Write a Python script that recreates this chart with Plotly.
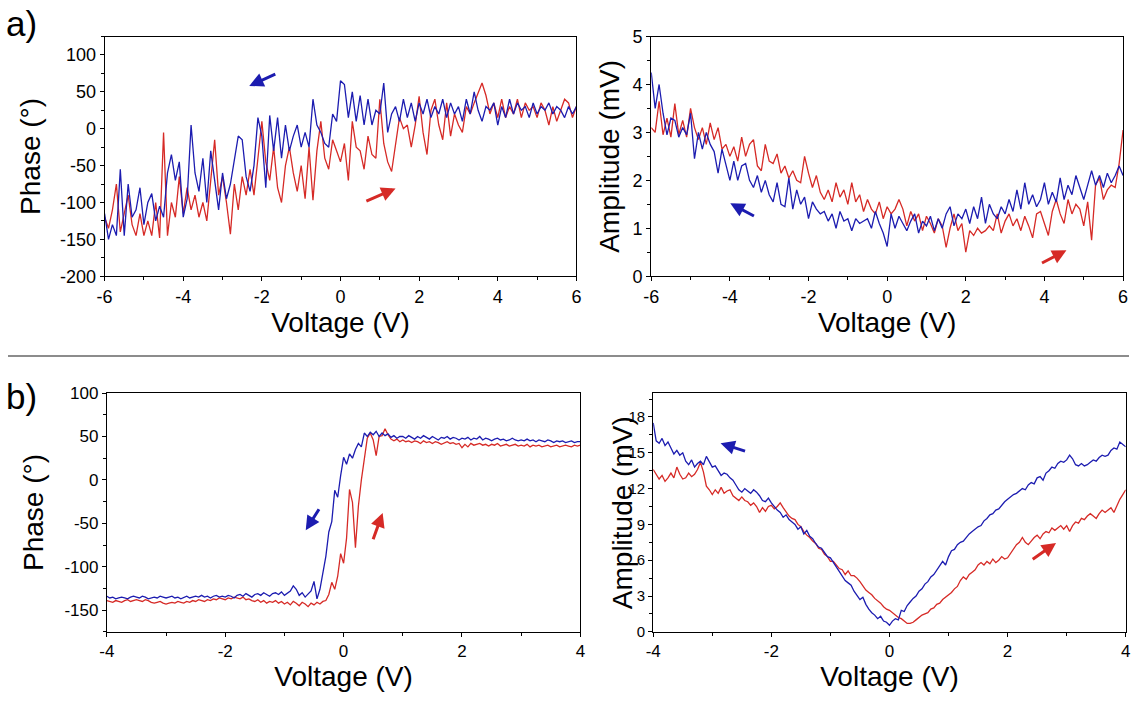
import numpy as np
import plotly.graph_objects as go

# ---------------- data ----------------
# panel a: voltage sweep -6..6 V, step 0.1 V
volt_a = np.linspace(-6, 6, 121)

phase_a_blue = [
    -115, -150, -130, -145, -55, -145, -75, -120, -110, -80,
    -130, -100, -88, -125, -105, -120, -60, -35, -70, -45,
    -120, -95, 5, -60, -85, -40, -100, -30, -70, -110,
    -60, -95, -75, -40, -10, -15, -65, -85, -50, 15,
    -10, -80, 18, -30, 15, -40, 5, -30, -10, 5,
    -25, -5, -25, 40, 5, -5, -20, -25, 20, 10,
    65, 60, 15, 50, 10, 45, 5, 40, 5, 25,
    20, 62, -5, 20, 30, 10, 40, 15, 35, 10,
    35, 20, 40, 15, 30, 20, 40, 15, 35, 20,
    30, 10, 40, 20, 50, 25, 10, 30, 25, 35,
    5, 30, 15, 40, 20, 35, 25, 30, 15, 35,
    20, 30, 25, 35, 20, 30, 25, 15, 30, 20,
    30,
]
phase_a_red = [
    -120, -135, -110, -75, -140, -115, -90, -130, -145, -115,
    -145, -125, -145, -100, -148, -5, -145, -100, -120, -65,
    -115, -80, -110, -90, -120, -100, -125, -70, -15, -90,
    -65, -100, -143, -75, -110, -65, -90, -55, -90, -40,
    10, -45, -70, -25, -80, -100, -50, -25, -60, -85,
    -50, -95, -25, -97, -30, 10, -40, -55, -15, -30,
    -45, -20, -70, 10, -25, -30, -55, -10, -35, -40,
    40, -20, -45, -58, -20, 15, 0, 5, -25, 5,
    44, -5, -35, 25, 40, 5, -15, 35, -10, 20,
    5, -5, 30, 20, 35, 50, 62, 45, 20, 35,
    15, 40, 15, 30, 20, 40, 15, 35, 25, 30,
    15, 35, 25, 5, 30, 10, 25, 40, 35, 15,
    30,
]
amp_a_blue = [
    4.25, 3.5, 4.0, 3.4, 2.95, 3.3, 3.25, 2.9, 3.1, 2.95,
    3.4, 2.45, 3.0, 2.65, 3.0, 2.75, 2.6, 2.15, 2.65, 2.3,
    2.0, 2.4, 2.0, 2.3, 2.35, 2.0, 1.85, 2.1, 1.75, 2.0,
    1.7, 1.55, 1.95, 1.5, 1.45, 2.05, 1.4, 1.8, 1.5, 1.65,
    1.2, 1.55, 1.4, 1.3, 1.35, 1.15, 1.3, 1.0, 1.35, 1.15,
    1.2, 0.95, 1.2, 1.1, 1.15, 1.2, 1.0, 1.35, 1.1, 0.9,
    0.62, 1.3, 1.0, 1.25, 1.1, 0.95, 1.15, 1.3, 0.9, 1.15,
    1.05, 1.25, 0.95, 1.2, 1.0, 1.3, 1.45, 1.05, 1.3, 1.2,
    1.4, 1.1, 1.45, 1.2, 1.65, 1.1, 1.5, 1.3, 1.2, 1.45,
    1.3, 1.6, 1.35, 1.8, 1.4, 1.95, 1.5, 1.7, 1.45, 1.6,
    1.95, 1.5, 1.75, 1.55, 2.05, 1.6, 1.9, 1.7, 2.1, 1.85,
    1.6, 1.9, 2.2, 1.9, 2.1, 1.85, 2.15, 1.95, 2.1, 2.3,
    2.1,
]
amp_a_red = [
    3.1, 3.0, 3.65, 2.95, 3.3, 2.9, 3.6, 2.95, 3.25, 2.9,
    3.5, 3.1, 2.85, 3.1, 2.75, 3.2, 2.85, 3.1, 2.65, 2.75,
    2.5, 2.7, 2.4, 2.9, 2.5, 2.75, 2.85, 2.3, 2.2, 2.75,
    2.4, 2.35, 2.55, 2.15, 2.3, 2.05, 2.2, 2.0, 1.95, 2.5,
    2.15, 1.85, 2.1, 1.75, 1.6, 1.8, 1.55, 1.95, 1.65, 1.8,
    1.5, 1.95, 1.55, 1.7, 1.35, 1.6, 1.4, 1.3, 1.55, 1.2,
    1.45, 1.3, 1.4, 1.6, 1.4, 1.05, 1.35, 1.15, 1.3, 0.95,
    1.25, 1.1, 0.9, 1.2, 1.05, 0.6, 1.0, 1.3, 0.95, 1.1,
    0.5, 0.95, 0.85, 1.0, 0.9, 0.95, 1.05, 0.95, 1.3, 0.9,
    1.15, 1.3, 1.05, 1.2, 0.95, 1.25, 1.05, 0.8, 1.3, 1.35,
    1.1, 0.85, 1.35, 1.6, 1.3, 1.1, 1.6, 1.3, 1.5, 1.4,
    1.05, 1.55, 0.75, 1.9, 2.05, 1.6, 1.8, 1.9, 1.85, 2.35,
    3.05,
]

# panel b: voltage sweep -4..4 V, step 0.05 V
volt_b = np.linspace(-4, 4, 161)

phase_b_blue = [
    -134, -136, -135, -137, -136, -135, -136, -137, -135, -134,
    -135, -136, -134, -135, -137, -136, -135, -136, -134, -135,
    -136, -135, -134, -136, -135, -137, -135, -134, -136, -135,
    -134, -135, -133, -135, -134, -136, -134, -133, -135, -134,
    -135, -133, -134, -136, -133, -132, -134, -131, -133, -135,
    -132, -131, -133, -130, -132, -134, -131, -130, -132, -129,
    -133, -131, -128, -122, -126, -133, -130, -135, -131, -128,
    -117, -137, -126, -107, -88, -60, -48, -12, -20, 5,
    26, 18, 30, 25, 35, 42, 38, 54, 50, 55,
    52, 56, 50, 54, 51, 53, 49, 51, 48, 50,
    50, 48, 51, 49, 47, 50, 48, 51, 49, 47,
    50, 48, 46, 49, 48, 50, 47, 49, 48, 46,
    48, 47, 49, 46, 48, 47, 50, 46, 48, 47,
    45, 47, 48, 46, 47, 45, 46, 48, 46, 45,
    46, 45, 47, 45, 46, 44, 46, 45, 44, 46,
    45, 43, 45, 44, 45, 43, 44, 45, 43, 44,
    44,
]
phase_b_red = [
    -139, -140, -141, -139, -140, -141, -139, -138, -140, -139,
    -138, -139, -140, -138, -139, -141, -142, -141, -140, -142,
    -143, -142, -141, -142, -140, -141, -142, -140, -141, -139,
    -140, -138, -139, -140, -138, -139, -137, -138, -136, -137,
    -138, -136, -137, -135, -136, -137, -135, -138, -137, -139,
    -140, -138, -141, -139, -142, -140, -141, -139, -142, -140,
    -143, -141, -144, -140, -142, -145, -141, -143, -146, -142,
    -144, -141, -143, -140, -139, -132, -118, -126, -111, -85,
    -96, -67, -11, -26, -78, -30, 0, 22, 48, 54,
    46, 28, 50, 51, 59, 52, 47, 45, 47, 44,
    46, 44, 45, 43, 45, 44, 42, 45, 43, 44,
    42, 44, 43, 41, 43, 44, 42, 43, 41, 42,
    37, 41, 38, 42, 40, 41, 42, 40, 41, 39,
    41, 40, 42, 39, 40, 41, 39, 40, 41, 39,
    40, 39, 41, 38, 40, 39, 40, 38, 39, 40,
    38, 39, 40, 38, 39, 40, 39, 38, 40, 39,
    40,
]
amp_b_blue = [
    17.5, 16.0, 15.8, 16.2, 15.6, 15.9, 15.4, 14.9, 15.2, 14.8,
    15.0, 14.3, 14.0, 14.4, 13.8, 14.1, 14.3, 14.0, 14.7, 14.2,
    13.8, 13.9, 13.5, 13.1, 13.3, 13.2, 12.9, 12.7, 12.3, 11.9,
    11.7, 12.0, 11.8, 11.6, 11.9, 11.7, 11.4, 11.0, 10.9, 11.2,
    10.8, 10.5, 10.2, 10.0, 9.6, 9.8, 9.4, 9.2, 9.0, 8.6,
    8.8, 8.2, 8.5, 8.0, 7.8, 7.4, 7.1, 7.0, 6.6, 6.3,
    6.2, 5.8, 5.4, 5.0, 4.6, 4.3, 4.1, 3.9, 3.4, 3.0,
    2.7, 2.9, 2.3, 1.9, 1.6, 1.4, 1.1, 1.3, 0.9, 0.8,
    0.55, 0.9, 1.1, 1.0, 1.8, 1.7, 2.2, 2.5, 2.8, 3.0,
    3.4, 3.6, 4.0, 4.2, 4.6, 4.8, 5.2, 5.5, 5.9, 5.6,
    6.3, 6.8, 6.9, 7.3, 7.5, 7.6, 7.9, 8.2, 8.4, 8.6,
    8.8, 8.9, 9.3, 9.5, 9.8, 9.9, 10.2, 10.3, 10.6, 10.9,
    11.1, 11.3, 11.5, 11.6, 11.8, 12.0, 11.9, 12.3, 12.5, 12.4,
    12.9, 13.0, 12.7, 13.3, 13.5, 13.8, 13.7, 14.1, 14.3, 14.2,
    14.4, 14.8, 14.5, 14.0, 13.9, 14.1, 13.9, 14.0, 14.2, 14.4,
    14.3, 14.6, 14.8, 14.7, 14.8, 15.2, 15.4, 15.3, 15.9, 15.7,
    15.5,
]
amp_b_red = [
    13.6, 13.2, 12.8, 13.1, 12.6, 12.9, 13.3, 12.9, 13.8, 13.2,
    12.8, 12.9, 13.3, 13.0, 13.2, 13.6, 14.2, 13.4, 12.2, 11.9,
    11.5, 11.9, 11.6, 12.1, 11.6, 11.8, 11.9, 11.4, 11.2, 11.0,
    11.3, 11.0, 10.9, 10.6, 10.8, 10.5, 10.0, 10.4, 10.1, 10.5,
    10.6, 10.3, 10.5, 10.8, 10.4, 10.0, 9.7, 9.5, 9.4, 9.0,
    8.8, 8.4, 8.1, 7.9, 7.6, 7.4, 7.0, 6.9, 6.5, 6.3,
    5.9, 5.9, 5.6, 5.3, 5.2, 4.8, 5.1, 4.7, 4.7, 4.5,
    4.2, 3.8, 3.5, 3.3, 3.1, 2.8, 2.6, 2.4, 2.1, 1.9,
    1.8, 1.6, 1.4, 1.2, 1.1, 0.9, 0.7, 0.7, 0.8, 1.0,
    1.2, 1.4, 1.5, 1.6, 1.9, 2.0, 2.3, 2.4, 2.7, 2.9,
    3.1, 3.3, 3.6, 3.8, 4.3, 4.6, 4.4, 4.8, 5.0, 5.2,
    5.6, 5.8, 5.6, 5.9, 5.7, 6.1, 5.8, 6.0, 6.3, 6.1,
    6.2, 6.6, 6.9, 7.3, 7.5, 7.9, 7.5, 7.3, 7.6, 7.9,
    8.1, 7.8, 8.2, 8.4, 8.3, 8.7, 8.5, 8.7, 8.9, 8.6,
    8.9, 8.4, 8.9, 9.2, 9.1, 9.5, 9.4, 9.7, 9.9, 9.7,
    9.5, 9.9, 10.2, 10.0, 10.2, 10.4, 10.0, 10.6, 11.1, 11.5,
    11.9,
]

# tick labels (hyphen minus, as in the original)
xticks_a = [-6, -4, -2, 0, 2, 4, 6]
xticklabels_a = ["-6", "-4", "-2", "0", "2", "4", "6"]
yticks_a_phase = [-200, -150, -100, -50, 0, 50, 100]
yticklabels_a_phase = ["-200", "-150", "-100", "-50", "0", "50", "100"]
yticks_a_amp = [0, 1, 2, 3, 4, 5]
yticklabels_a_amp = ["0", "1", "2", "3", "4", "5"]
xticks_b = [-4, -2, 0, 2, 4]
xticklabels_b = ["-4", "-2", "0", "2", "4"]
yticks_b_phase = [-150, -100, -50, 0, 50, 100]
yticklabels_b_phase = ["-150", "-100", "-50", "0", "50", "100"]
yticks_b_amp = [0, 3, 6, 9, 12, 15, 18]
yticklabels_b_amp = ["0", "3", "6", "9", "12", "15", "18"]

# sweep-direction arrows: (head_x, head_y, tail_x, tail_y)
arrows_blue = {
    "a_phase": (-2.32, 58, -1.62, 75),
    "a_amp": (-3.99, 1.52, -3.35, 1.24),
    "b_phase": (-0.64, -58, -0.40, -32),
    "b_amp": (-2.86, 15.8, -2.42, 15.1),
}
arrows_red = {
    "a_phase": (1.40, -81, 0.62, -99),
    "a_amp": (4.56, 0.54, 3.90, 0.26),
    "b_phase": (0.66, -38, 0.49, -70),
    "b_amp": (2.82, 7.45, 2.40, 6.0),
}

# ---------------- styling ----------------
BLUE = "#1c1cb0"
RED = "#d62a26"
FONT = "Liberation Sans, Arial, sans-serif"
W, H = 1134, 704

def px_dom(a, b, total):
    return [a / total, b / total]

def ydom(top, bottom):
    return [1 - bottom / H, 1 - top / H]

fig = go.Figure()

panels = [
    ("x", "y", volt_a, phase_a_blue, phase_a_red, "a_phase"),
    ("x2", "y2", volt_a, amp_a_blue, amp_a_red, "a_amp"),
    ("x3", "y3", volt_b, phase_b_blue, phase_b_red, "b_phase"),
    ("x4", "y4", volt_b, amp_b_blue, amp_b_red, "b_amp"),
]

for xa, ya, v, b, r, key in panels:
    fig.add_trace(go.Scatter(x=v, y=r, mode="lines", xaxis=xa, yaxis=ya,
                             line=dict(color=RED, width=1.3), showlegend=False))
    fig.add_trace(go.Scatter(x=v, y=b, mode="lines", xaxis=xa, yaxis=ya,
                             line=dict(color=BLUE, width=1.3), showlegend=False))
    for arr, col in ((arrows_blue, BLUE), (arrows_red, RED)):
        hx, hy, tx, ty = arr[key]
        fig.add_annotation(x=hx, y=hy, ax=tx, ay=ty, xref=xa, yref=ya,
                           axref=xa, ayref=ya, text="", showarrow=True,
                           arrowhead=2, arrowsize=0.95, arrowwidth=3,
                           arrowcolor=col, standoff=0, startstandoff=0)

def axis_common(tfs=18, **kw):
    d = dict(showline=True, linecolor="black", linewidth=1, mirror=True,
             ticks="outside", ticklen=4, tickcolor="black", tickwidth=1,
             showgrid=False, zeroline=False,
             tickfont=dict(family=FONT, size=tfs, color="black"),
             title_font=dict(family=FONT, size=28, color="black"))
    d.update(kw)
    return d

def minor(step):
    return dict(ticks="outside", ticklen=3, dtick=step, tick0=0, tickcolor="black")

fig.update_layout(
    width=W, height=H,
    margin=dict(l=0, r=0, t=0, b=0),
    paper_bgcolor="white", plot_bgcolor="white",
    font=dict(family=FONT, color="black"),
    xaxis=axis_common(domain=px_dom(97.7, 575, W), anchor="y", range=[-6, 6],
                      tickvals=xticks_a, ticktext=xticklabels_a,
                      title=dict(text="Voltage (V)", standoff=6), minor=minor(1)),
    yaxis=axis_common(domain=ydom(27.3, 274), anchor="x", range=[-200, 125],
                      tickvals=yticks_a_phase, ticktext=yticklabels_a_phase,
                      title=dict(text="Phase (°)", standoff=11), minor=minor(25)),
    xaxis2=axis_common(domain=px_dom(650.7, 1128, W), anchor="y2", range=[-6, 6],
                       tickvals=xticks_a, ticktext=xticklabels_a,
                       title=dict(text="Voltage (V)", standoff=6), minor=minor(1)),
    yaxis2=axis_common(domain=ydom(27.3, 274), anchor="x2", range=[0, 5],
                       tickvals=yticks_a_amp, ticktext=yticklabels_a_amp,
                       title=dict(text="Amplitude (mV)", standoff=4), minor=minor(0.5)),
    xaxis3=axis_common(tfs=17, domain=px_dom(100, 579, W), anchor="y3", range=[-4, 4],
                       tickvals=xticks_b, ticktext=xticklabels_b,
                       title=dict(text="Voltage (V)", standoff=6), minor=minor(1)),
    yaxis3=axis_common(tfs=17, domain=ydom(394.3, 640), anchor="x3", range=[-175, 100],
                       tickvals=yticks_b_phase, ticktext=yticklabels_b_phase,
                       title=dict(text="Phase (°)", standoff=12), minor=minor(25)),
    xaxis4=axis_common(tfs=17, domain=px_dom(652.7, 1130.7, W), anchor="y4", range=[-4, 4],
                       tickvals=xticks_b, ticktext=xticklabels_b,
                       title=dict(text="Voltage (V)", standoff=6), minor=minor(1)),
    yaxis4=axis_common(tfs=15, domain=ydom(394.3, 640), anchor="x4", range=[0, 20],
                       tickvals=yticks_b_amp, ticktext=yticklabels_b_amp,
                       minor=minor(1.5)),
)

# b-right y title sits over its tick labels, as in the original
fig.add_annotation(text="Amplitude (mV)", xref="paper", yref="paper",
                   x=621 / W, y=1 - 517 / H, textangle=-90, showarrow=False,
                   xanchor="center", yanchor="middle",
                   font=dict(family=FONT, size=28, color="black"))

# separator line and panel labels
fig.add_shape(type="line", xref="paper", yref="paper", x0=0, x1=1,
              y0=1 - 356 / H, y1=1 - 356 / H, line=dict(color="#8c8c8c", width=2))
fig.add_annotation(text="a)", xref="paper", yref="paper", x=-0.004, y=1.012,
                   xanchor="left", yanchor="top", showarrow=False,
                   font=dict(family=FONT, size=35, color="black"))
fig.add_annotation(text="b)", xref="paper", yref="paper", x=-0.004, y=1 - 376 / H,
                   xanchor="left", yanchor="top", showarrow=False,
                   font=dict(family=FONT, size=35, color="black"))

fig.write_html("out.html")
